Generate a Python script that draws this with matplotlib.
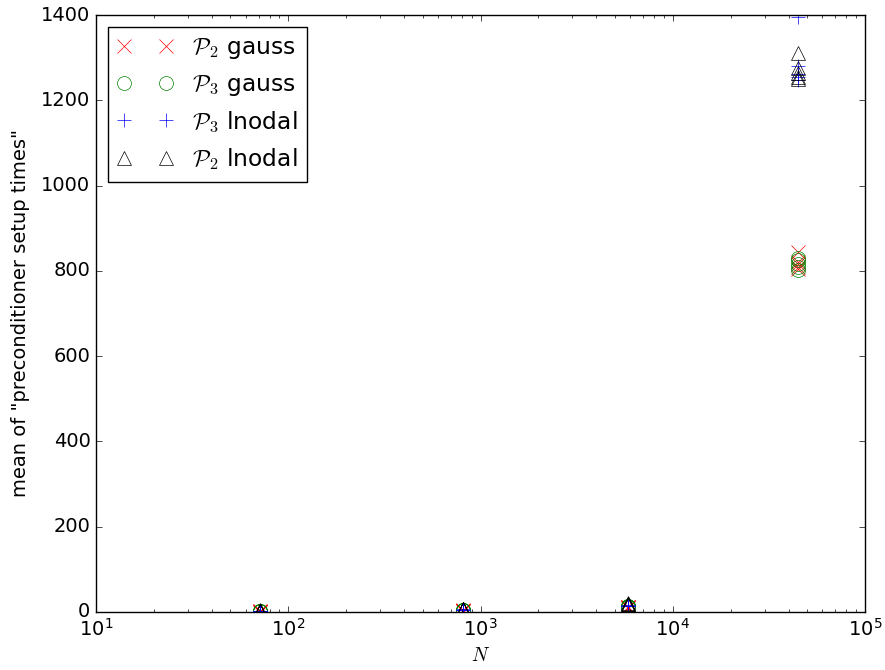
import numpy as np
import matplotlib
matplotlib.use("Agg")
import matplotlib.pyplot as plt

plt.style.use('classic')
plt.rcParams['font.size'] = 14

# problem sizes (several runs at each size)
N_sizes = [71.5, 810, 5850, 44600]

p2_gauss = [[1, 1, 2, 2, 1], [3, 3, 4, 3, 3], [10, 11, 12, 10, 11], [845, 820, 810, 805, 815]]
p3_gauss = [[2, 2, 3, 2, 2], [4, 4, 5, 4, 4], [12, 13, 14, 12, 13], [830, 825, 815, 808, 803]]
p3_lnodal = [[2, 3, 3, 2, 2], [5, 5, 6, 5, 5], [14, 15, 16, 14, 15], [1395, 1280, 1262, 1255, 1248]]
p2_lnodal = [[3, 3, 4, 3, 3], [6, 6, 7, 6, 6], [18, 17, 20, 16, 19], [1312, 1275, 1265, 1255, 1250]]

series = [
    (p2_gauss, 'x', 'r', r'$\mathcal{P}_2$ gauss'),
    (p3_gauss, 'o', 'g', r'$\mathcal{P}_3$ gauss'),
    (p3_lnodal, '+', 'b', r'$\mathcal{P}_3$ lnodal'),
    (p2_lnodal, '^', 'k', r'$\mathcal{P}_2$ lnodal'),
]

fig = plt.figure(figsize=(8.85, 6.7), dpi=100)
ax = fig.add_axes([0.1085, 0.0866, 0.869, 0.891])

for vals, m, c, lab in series:
    xs = []
    ys = []
    for n, v in zip(N_sizes, vals):
        xs += [n] * len(v)
        ys += v
    ax.plot(xs, ys, linestyle='none', marker=m, markersize=10,
            markerfacecolor='none', markeredgecolor=c, color=c, label=lab)

ax.set_xscale('log')
ax.set_xlim(10, 1e5)
ax.set_ylim(0, 1400)
ax.set_xlabel(r'$N$')
ax.set_ylabel('mean of "preconditioner setup times"', labelpad=8)
ax.legend(loc='upper left', numpoints=2, handlelength=2.4)

fig.savefig('out.png', dpi=100)
